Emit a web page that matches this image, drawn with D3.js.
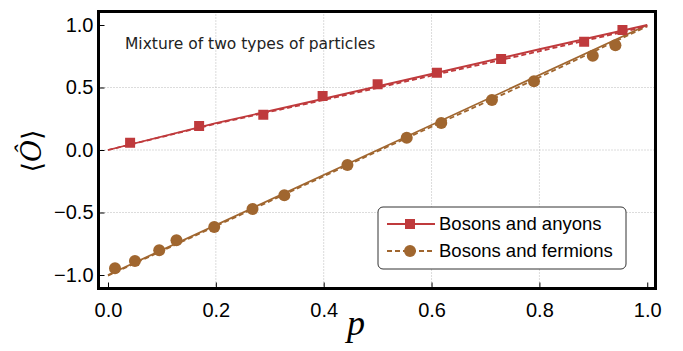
<!DOCTYPE html>
<html>
<head>
<meta charset="utf-8">
<script src="https://cdn.jsdelivr.net/npm/d3@7"></script>
<style>
  html, body { margin: 0; padding: 0; background: #fff; }
  svg { display: block; }
</style>
</head>
<body>
<svg width="683" height="351"></svg>
<script>
// measured points (bosons + anyons)
const anyonP = [0.041, 0.169, 0.288, 0.398, 0.500, 0.610, 0.729, 0.883, 0.954];
const anyonO = [0.058, 0.192, 0.282, 0.432, 0.526, 0.618, 0.728, 0.866, 0.960];
// measured points (bosons + fermions)
const fermP = [0.013, 0.050, 0.095, 0.127, 0.197, 0.268, 0.327, 0.444, 0.554, 0.618, 0.712, 0.790, 0.899, 0.941];
const fermO = [-0.946, -0.888, -0.802, -0.722, -0.616, -0.472, -0.362, -0.120, 0.098, 0.216, 0.400, 0.550, 0.754, 0.838];
// theory curves
const anyonSolidP = [0, 0.2, 0.4, 0.6, 0.8, 1.0];
const anyonSolidO = [0, 0.215, 0.41, 0.608, 0.806, 1.0];
const anyonDashP = [0, 0.2, 0.4, 0.6, 0.8, 1.0];
const anyonDashO = [0, 0.21, 0.40, 0.595, 0.79, 0.99];
const fermSolidP = [0, 0.5, 1.0];
const fermSolidO = [-1, 0.0, 1.0];
const fermDashP = [0, 0.25, 0.5, 0.75, 1.0];
const fermDashO = [-1.005, -0.51, -0.01, 0.48, 0.99];

const xTicks = [0, 0.2, 0.4, 0.6, 0.8, 1.0];
const yTicks = [-1.0, -0.5, 0.0, 0.5, 1.0];

const red = '#bf3a3c', brown = '#a0662f';

const svg = d3.select('svg');
const L = 98.5, R = 655.5, T = 11.5, B = 288.5;

const x = d3.scaleLinear().domain([-0.0176, 1.0153]).range([L, R]);
const y = d3.scaleLinear().domain([-1.108, 1.108]).range([B, T]);

// grid
const grid = svg.append('g')
  .attr('stroke', '#b8b8b8').attr('stroke-width', 1).attr('stroke-dasharray', '1,2');
grid.selectAll('.gx').data(xTicks.slice(1, -1)).join('line')
  .attr('x1', d => x(d)).attr('x2', d => x(d)).attr('y1', T).attr('y2', B);
grid.selectAll('.gy').data(yTicks.slice(1, -1)).join('line')
  .attr('y1', d => y(d)).attr('y2', d => y(d)).attr('x1', L).attr('x2', R);

// axes, ticks inside
const fmt = d => d3.format('.1f')(d).replace('-', '\u2212');
const xAxis = svg.append('g').attr('transform', `translate(0,${B})`)
  .call(d3.axisBottom(x).tickValues(xTicks).tickSize(-6).tickPadding(14).tickFormat(fmt));
const yAxis = svg.append('g').attr('transform', `translate(${L},0)`)
  .call(d3.axisLeft(y).tickValues(yTicks).tickSize(-6).tickPadding(5).tickFormat(fmt));
[xAxis, yAxis].forEach(a => {
  a.select('.domain').remove();
  a.selectAll('.tick line').attr('stroke', '#000').attr('stroke-width', 1);
  a.selectAll('.tick text').attr('fill', '#000')
    .style('font-family', '"Liberation Sans", Arial, sans-serif').style('font-size', '20px');
});

// lines
const line = d3.line().x(d => x(d[0])).y(d => y(d[1]));
const zip = (a, b) => a.map((v, i) => [v, b[i]]);
svg.append('path').datum(zip(fermDashP, fermDashO)).attr('d', line)
  .attr('fill', 'none').attr('stroke', brown).attr('stroke-width', 1.8).attr('stroke-dasharray', '5,3');
svg.append('path').datum(zip(fermSolidP, fermSolidO)).attr('d', line)
  .attr('fill', 'none').attr('stroke', brown).attr('stroke-width', 1.8);
svg.append('path').datum(zip(anyonDashP, anyonDashO)).attr('d', line)
  .attr('fill', 'none').attr('stroke', red).attr('stroke-width', 1.8).attr('stroke-dasharray', '5,3');
svg.append('path').datum(zip(anyonSolidP, anyonSolidO)).attr('d', line)
  .attr('fill', 'none').attr('stroke', red).attr('stroke-width', 1.8);

// markers
const sq = 10;
svg.append('g').selectAll('rect').data(zip(anyonP, anyonO)).join('rect')
  .attr('x', d => x(d[0]) - sq / 2).attr('y', d => y(d[1]) - sq / 2)
  .attr('width', sq).attr('height', sq).attr('fill', red);
svg.append('g').selectAll('circle').data(zip(fermP, fermO)).join('circle')
  .attr('cx', d => x(d[0])).attr('cy', d => y(d[1])).attr('r', 6).attr('fill', brown);

// frame
svg.append('rect').attr('x', L).attr('y', T).attr('width', R - L).attr('height', B - T)
  .attr('fill', 'none').attr('stroke', '#000').attr('stroke-width', 3);

// title
svg.append('text').attr('x', 125).attr('y', 49)
  .style('font-family', '"DejaVu Sans", sans-serif').style('font-size', '15.5px').attr('fill', '#222')
  .text('Mixture of two types of particles');

// legend
const lg = svg.append('g').attr('transform', 'translate(378,207)');
lg.append('rect').attr('width', 248).attr('height', 62).attr('rx', 5)
  .attr('fill', '#fff').attr('stroke', '#333').attr('stroke-width', 1);
const items = [
  { name: 'Bosons and anyons', color: red, dash: null, shape: 'square' },
  { name: 'Bosons and fermions', color: brown, dash: '5,3', shape: 'circle' }
];
items.forEach((it, i) => {
  const cy = 17 + i * 27;
  lg.append('line').attr('x1', 9).attr('x2', 57).attr('y1', cy).attr('y2', cy)
    .attr('stroke', it.color).attr('stroke-width', 1.8).attr('stroke-dasharray', it.dash);
  if (it.shape === 'square') {
    lg.append('rect').attr('x', 32 - sq / 2).attr('y', cy - sq / 2).attr('width', sq).attr('height', sq).attr('fill', it.color);
  } else {
    lg.append('circle').attr('cx', 32).attr('cy', cy).attr('r', 6).attr('fill', it.color);
  }
  lg.append('text').attr('x', 61).attr('y', cy).attr('dy', '0.35em')
    .style('font-family', '"Liberation Sans", Arial, sans-serif').style('font-size', '18.5px')
    .text(it.name);
});

// axis labels
svg.append('text').attr('x', 356).attr('y', 335).attr('text-anchor', 'middle')
  .style('font-family', '"Liberation Serif", serif').style('font-style', 'italic').style('font-size', '36px')
  .text('p');
const yl = svg.append('text').attr('transform', 'translate(41,151) rotate(-90)').attr('text-anchor', 'middle')
  .style('font-family', '"DejaVu Serif", serif').style('font-size', '27px');
yl.append('tspan').text('\u27E8');
yl.append('tspan').style('font-style', 'italic').text('\u00D4');
yl.append('tspan').text('\u27E9');
</script>
</body>
</html>
